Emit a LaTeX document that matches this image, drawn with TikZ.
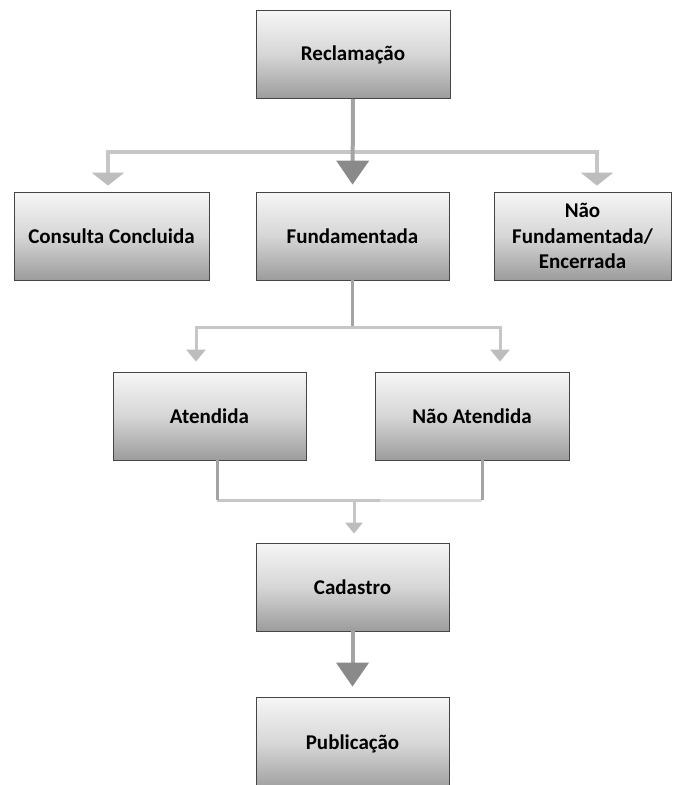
\documentclass[tikz,border=0pt]{standalone}
\usepackage{fontspec}
\setmainfont{Carlito}
\usetikzlibrary{arrows.meta}
\definecolor{lightln}{HTML}{C6C6C6}
\definecolor{lighterln}{HTML}{DCDCDC}
\definecolor{darkln}{HTML}{A4A4A4}
\definecolor{darktip}{HTML}{8A8A8A}
\definecolor{lighttip}{HTML}{BDBDBD}
\definecolor{boxedge}{HTML}{454545}
\definecolor{boxtop}{HTML}{F6F6F6}
\definecolor{boxmid}{HTML}{D6D6D6}
\definecolor{boxbot}{HTML}{9C9C9C}
\begin{document}
\begin{tikzpicture}[x=1pt,y=-1pt,
  box/.style={draw=boxedge, line width=0.8pt, top color=boxtop, bottom color=boxbot, middle color=boxmid,
    minimum height=88pt, inner sep=0pt, align=center,
    font=\bfseries\fontsize{21}{25.5}\selectfont},
  mainln/.style={draw=darkln, line width=4pt},
  branchln/.style={draw=lightln, line width=3.5pt},
  bigtip/.style={-{Triangle[width=32pt,length=24pt,color=darktip]}},
  midtip/.style={-{Triangle[width=32pt,length=13pt,color=lighttip]}},
  smalltip/.style={-{Triangle[width=19pt,length=12pt,color=lighttip]}},
  tinytip/.style={-{Triangle[width=17pt,length=11pt,color=lighttip]}}]
\useasboundingbox (0,0) rectangle (673,785);

\node[box, minimum width=194pt] (recl) at (353,54.5) {Reclamação};
\node[box, minimum width=195pt] (cons) at (111.5,236) {Consulta Concluida};
\node[box, minimum width=193pt] (fund) at (352.5,236) {Fundamentada};
\node[box, minimum width=177pt] (naof) at (582.5,236) {Não\\Fundamentada/\\Encerrada};
\node[box, minimum width=193pt] (aten) at (209.5,416) {Atendida};
\node[box, minimum width=194pt] (naoa) at (472,416) {Não Atendida};
\node[box, minimum width=193pt] (cad) at (352.5,587) {Cadastro};
\node[box, minimum width=193pt, minimum height=94pt] (pub) at (352.5,744) {Publicação};

% first level branches
\coordinate (split1) at (353,152);
\draw[branchln, midtip, shorten >=6pt] (split1) -| ([xshift=-3.5pt]cons.north);
\draw[branchln, midtip, shorten >=6pt] (split1) -| ([xshift=14.5pt]naof.north);
\draw[mainln, bigtip, shorten >=7pt] (recl.south) -- (fund.north);

% second level branches
\coordinate (split2) at (352.5,327);
\draw[draw=darkln, line width=3pt] (fund.south) -- (split2);
\draw[branchln, line width=3pt, smalltip, shorten >=10pt] (split2) -| ([xshift=-13.5pt]aten.north);
\draw[branchln, line width=3pt, smalltip, shorten >=10pt] (split2) -| ([xshift=28pt]naoa.north);

% merge into Cadastro
\coordinate (merge) at (354,500);
\draw[draw=lighterln, line width=3pt] ([xshift=26pt]merge) -- ([xshift=10pt]naoa.south |- merge);
\draw[draw=lightln, line width=3pt] ([xshift=7.5pt]aten.south |- merge) -- ([xshift=26pt]merge);
\draw[draw=darkln, line width=3pt] ([xshift=7.5pt]aten.south) -- ([xshift=7.5pt]aten.south |- merge);
\draw[draw=darkln, line width=3pt] ([xshift=10pt]naoa.south) -- ([xshift=10pt]naoa.south |- merge);
\draw[branchln, line width=3pt, tinytip, shorten >=9pt] (merge) -- ([xshift=1.5pt]cad.north);

% Cadastro to Publicacao
\draw[mainln, bigtip, shorten >=10pt] (cad.south) -- (pub.north);
\end{tikzpicture}
\end{document}
